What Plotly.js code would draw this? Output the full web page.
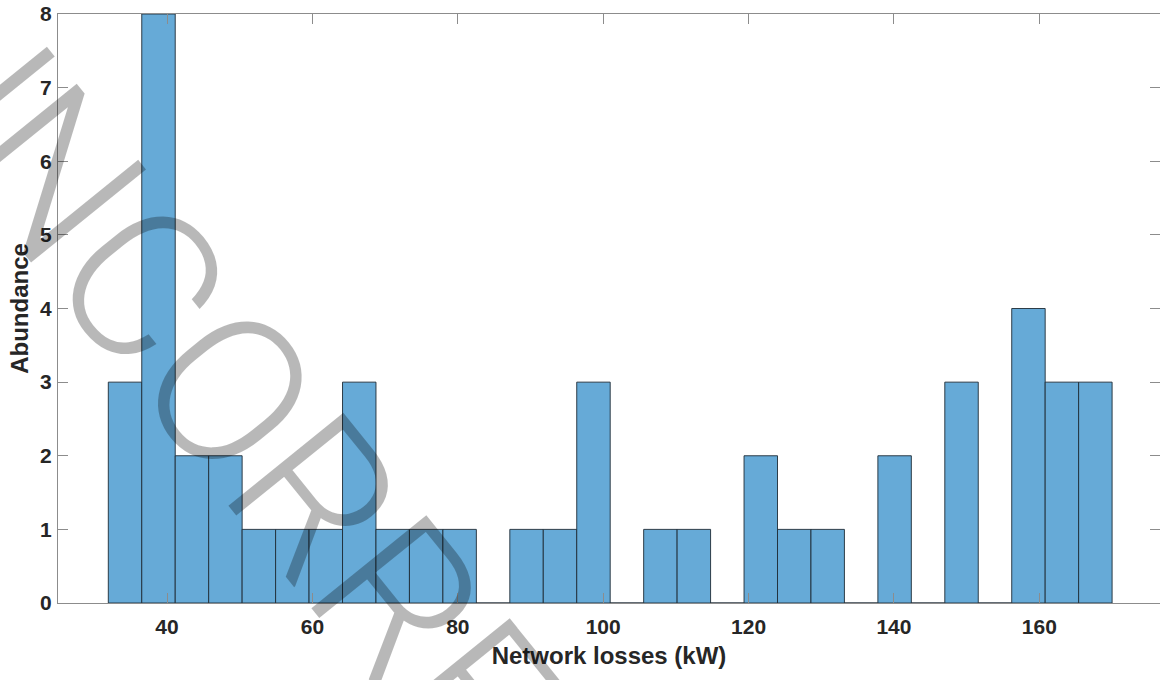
<!DOCTYPE html>
<html>
<head>
<meta charset="utf-8">
<script src="https://cdn.plot.ly/plotly-3.0.1.min.js"></script>
<style>html,body{margin:0;padding:0;background:#fff;}#chart{width:1160px;height:680px;}</style>
</head>
<body>
<div id="chart"></div>
<script>
// ---- data ----
const binStart = 31.92;          // left edge of first bin (kW)
const binWidth = 4.603;          // bin width (kW)
const counts = [3, 8, 2, 2, 1, 1, 1, 3, 1, 1, 1, 0, 1, 1, 3, 0, 1, 1, 0, 2, 1, 1, 0, 2, 0, 3, 0, 4, 3, 3];
const xTicks = [40, 60, 80, 100, 120, 140, 160];
const yTicks = [0, 1, 2, 3, 4, 5, 6, 7, 8];
const xTitle = "Network losses (kW)";
const yTitle = "Abundance";
const watermark = "UNCORRECTED PROOF";

const binCenters = counts.map((_, i) => binStart + binWidth * (i + 0.5));

const W = 1160, H = 680;
const M = {l: 58, r: 0, t: 14, b: 77};
const pw = W - M.l - M.r, ph = H - M.t - M.b;
function px2paperX(px) { return (px - M.l) / pw; }
function px2paperY(py) { return (H - M.b - py) / ph; }

const tickFont = {family: "Liberation Sans, Arial, sans-serif", size: 21, color: "#262626", weight: "bold"};
const titleFont = {family: "Liberation Sans, Arial, sans-serif", size: 24, color: "#262626", weight: "bold"};

const trace = {
  type: "bar",
  x: binCenters,
  y: counts,
  width: binWidth,
  marker: {color: "#66aad7", line: {color: "#1e2b36", width: 0.9}},
  hoverinfo: "x+y"
};

const axisCommon = {
  showline: true, linecolor: "#8c8c8c", linewidth: 1,
  mirror: "ticks", ticks: "inside", ticklen: 10, tickwidth: 1, tickcolor: "#8c8c8c",
  showgrid: false, zeroline: false, tickfont: tickFont
};

const layout = {
  width: W, height: H,
  margin: M,
  paper_bgcolor: "#ffffff", plot_bgcolor: "#ffffff",
  showlegend: false,
  bargap: 0,
  xaxis: Object.assign({}, axisCommon, {
    range: [25.0, 176.6], tickvals: xTicks, ticktext: xTicks.map(String),
    ticklabelstandoff: 5,
    title: {text: xTitle, font: titleFont, standoff: 9}
  }),
  yaxis: Object.assign({}, axisCommon, {
    range: [0, 8], tickvals: yTicks, ticktext: yTicks.map(String),
    ticklabelstandoff: 1,
    title: {text: yTitle, font: titleFont, standoff: 4}
  }),
  annotations: [{
    text: watermark, xref: "paper", yref: "paper",
    x: px2paperX(600), y: px2paperY(852), xanchor: "center", yanchor: "middle",
    textangle: 51, showarrow: false,
    font: {family: "Roboto, sans-serif", size: 208, weight: 300, color: "rgba(0,0,0,0.28)"}
  }]
};

Plotly.newPlot("chart", [trace], layout, {displayModeBar: false, staticPlot: true});
</script>
</body>
</html>
